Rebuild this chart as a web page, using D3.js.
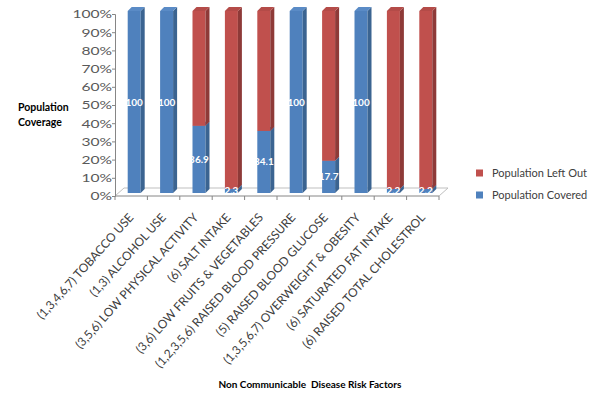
<!DOCTYPE html>
<html><head><meta charset="utf-8">
<script src="https://cdn.jsdelivr.net/npm/d3@7"></script>
<style>body{margin:0;background:#fff} svg{display:block;font-family:Lato,'Open Sans',sans-serif}</style>
</head><body><svg id="c" width="597" height="394"></svg>
<script>
const categories = ["(1,3,4,6,7) TOBACCO USE","(1,3) ALCOHOL USE","(3,5,6) LOW PHYSICAL ACTIVITY","(6) SALT INTAKE","(3,6) LOW FRUITS & VEGETABLES","(1,2,3,5,6) RAISED BLOOD PRESSURE","(5) RAISED BLOOD GLUCOSE","(1,3,5,6,7) OVERWEIGHT & OBESITY","(6) SATURATED FAT INTAKE","(6) RAISED TOTAL CHOLESTROL"];
const covered = [100,100,36.9,2.3,34.1,100,17.7,100,2.2,2.2];
const leftOut = [0,0,63.1,97.7,65.9,0,82.3,0,97.8,97.8];
const seriesNames = ["Population Covered","Population Left Out"];
const yTicks = [0,10,20,30,40,50,60,70,80,90,100];

const svg = d3.select("#c");
const x = d3.scaleBand().domain(categories).range([115,439]);
const yAxisScale = d3.scaleLinear().domain([0,100]).range([196,14]);
const yBar = d3.scaleLinear().domain([0,100]).range([193,11]);
const bw = 13, dx = 4, dy = 4;
const colors = {
  "Population Covered": {front:"#4F81BD", side:"#3B6491", top:"#5A8BC6"},
  "Population Left Out": {front:"#C0504D", side:"#8E3A38", top:"#B44B48"}
};

// floor
const fx0 = 115, fx1 = 439, fd = 9, fdy = 8, fy = 196;
svg.append("path").attr("d", `M${fx0},${fy}L${fx0+fd},${fy-fdy}L${fx1+fd},${fy-fdy}L${fx1},${fy}`)
  .attr("fill","none").attr("stroke","#BFBFBF").attr("stroke-width",1);

// y axis
const gy = svg.append("g").attr("transform","translate(115,0)")
  .call(d3.axisLeft(yAxisScale).tickValues(yTicks).tickFormat(d=>d+"%").tickSize(3).tickPadding(3));
gy.select(".domain").attr("stroke","#868686");
gy.selectAll(".tick line").attr("stroke","#868686");
gy.selectAll(".tick text").attr("fill","#595959").style("font-size","12px").style("font-family","Lato")
  .attr("x",0).attr("transform","translate(-3,0) scale(1.3,1)");

// x axis line and ticks
svg.append("line").attr("x1",115).attr("x2",439).attr("y1",fy).attr("y2",fy).attr("stroke","#868686");
const bounds = categories.map(c=>x(c)).concat([x.range()[1]]);
svg.selectAll(".xt").data(bounds).join("line").attr("x1",d=>d).attr("x2",d=>d).attr("y1",fy).attr("y2",fy+4).attr("stroke","#868686");

// bars
const stacks = categories.map((c,i)=>[
  {s:"Population Covered", y0:0, y1:covered[i], c},
  {s:"Population Left Out", y0:covered[i], y1:covered[i]+leftOut[i], c}
]);
stacks.forEach(st=>{
  st.forEach(seg=>{
    if (seg.y1 - seg.y0 <= 0) return;
    const bx = x(seg.c) + (x.bandwidth()-bw)/2 + 3;
    const yt = yBar(seg.y1), yb = yBar(seg.y0);
    const col = colors[seg.s];
    const g = svg.append("g");
    g.append("rect").attr("x",bx).attr("y",yt).attr("width",bw).attr("height",yb-yt).attr("fill",col.front);
    g.append("path").attr("d",`M${bx+bw},${yt}L${bx+bw+dx},${yt-dy}L${bx+bw+dx},${yb-dy}L${bx+bw},${yb}Z`).attr("fill",col.side);
    g.append("path").attr("d",`M${bx},${yt}L${bx+dx},${yt-dy}L${bx+bw+dx},${yt-dy}L${bx+bw},${yt}Z`).attr("fill",col.top);
  });
});

// data labels
svg.selectAll(".dl").data(categories).join("text")
  .attr("x",c=>x(c)+(x.bandwidth()-bw)/2+3+bw/2)
  .attr("y",(c,i)=>yBar(covered[i]/2))
  .attr("dy","0.35em").attr("text-anchor","middle")
  .attr("fill","#fff").style("font-size","10px").style("font-weight","bold")
  .text((c,i)=>covered[i]);

// x labels
svg.selectAll(".xl").data(categories).join("text")
  .attr("transform",c=>`translate(${x(c)+x.bandwidth()/2+3},${218}) rotate(-48)`)
  .attr("text-anchor","end").attr("fill","#404040").style("font-size","12px")
  .text(c=>c);

// axis titles
svg.append("text").attr("x",310).attr("y",384).attr("dy","0.35em").attr("text-anchor","middle")
  .attr("xml:space","preserve").style("white-space","pre")
  .style("font-size","10px").style("font-weight","bold").attr("fill","#000")
  .text("Non Communicable  Disease Risk Factors");
const yt = svg.append("text").attr("x",18).attr("y",107).style("font-size","10.5px").style("font-weight","bold").attr("fill","#000");
yt.append("tspan").attr("x",18).attr("dy","0.35em").text("Population");
yt.append("tspan").attr("x",18).attr("dy","1.5em").text("Coverage");

// legend
const legendOrder = ["Population Left Out","Population Covered"];
const lg = svg.selectAll(".lg").data(legendOrder).join("g").attr("transform",(d,i)=>`translate(476,${173+i*22})`);
lg.append("rect").attr("x",0).attr("y",-3.5).attr("width",7).attr("height",7).attr("fill",d=>colors[d].front);
lg.append("text").attr("x",16).attr("dy","0.35em").attr("fill","#404040").style("font-size","11px").text(d=>d);
</script></body></html>
